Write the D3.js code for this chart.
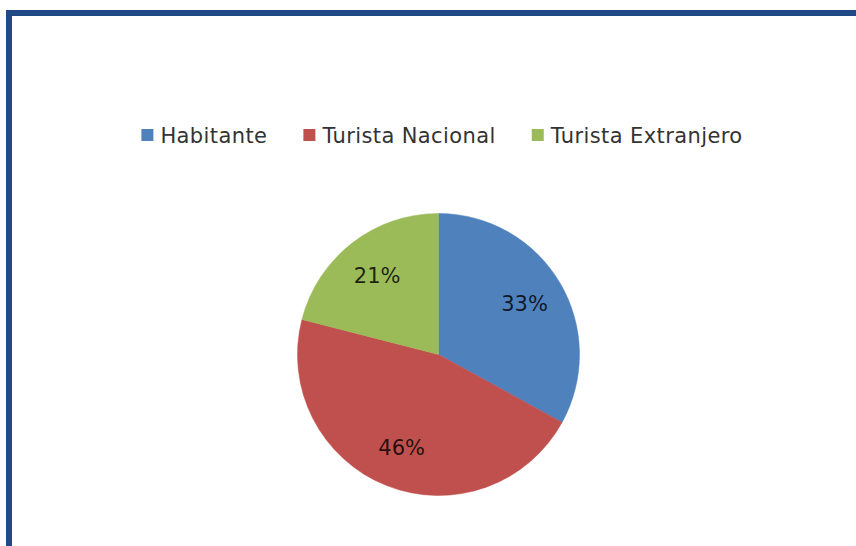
<!DOCTYPE html>
<html>
<head>
<meta charset="utf-8">
<script src="https://cdn.jsdelivr.net/npm/d3@7"></script>
<style>
  body { margin: 0; background: #fff; }
  svg { display: block; }
</style>
</head>
<body>
<div id="chart-area"></div>
<script>
// data
var categories = ["Habitante", "Turista Nacional", "Turista Extranjero"];
var values = [33, 46, 21];
var labels = ["33%", "46%", "21%"];
var colors = ["#4f81bd", "#c0504d", "#9bbb59"];

var width = 856, height = 546;

var svg = d3.select("#chart-area").append("svg")
    .attr("width", width)
    .attr("height", height);

// frame (top and left edges only are visible)
svg.append("rect")
    .attr("x", 6).attr("y", 10)
    .attr("width", width - 6).attr("height", 6)
    .attr("fill", "#1f4a86");
svg.append("rect")
    .attr("x", 6).attr("y", 10)
    .attr("width", 6).attr("height", height - 10)
    .attr("fill", "#1f4a86");

var cx = 438.5, cy = 354.5, radius = 141;

var pie = d3.pie()
    .sort(null)
    .value(function(d) { return d; });

var arc = d3.arc()
    .innerRadius(0)
    .outerRadius(radius);

var labelArc = d3.arc()
    .innerRadius(100)
    .outerRadius(100);

var g = svg.append("g")
    .attr("transform", "translate(" + cx + "," + cy + ")");

var arcs = pie(values);

g.selectAll("path.slice")
    .data(arcs)
    .enter().append("path")
    .attr("class", "slice")
    .attr("d", arc)
    .attr("fill", function(d, i) { return colors[i]; })
    .attr("stroke", function(d, i) { return colors[i]; })
    .attr("stroke-width", 0.5);

g.selectAll("text.lbl")
    .data(arcs)
    .enter().append("text")
    .attr("class", "lbl")
    .attr("transform", function(d) { return "translate(" + labelArc.centroid(d) + ")"; })
    .attr("text-anchor", "middle")
    .attr("dy", "0.36em")
    .style("font-family", "DejaVu Sans")
    .style("font-size", "21px")
    .style("fill", "#000")
    .style("fill-opacity", 0.82)
    .text(function(d, i) { return labels[i]; });

// legend
var legend = svg.append("g");
var items = legend.selectAll("g")
    .data(categories)
    .enter().append("g");

items.append("rect")
    .attr("y", -6)
    .attr("width", 12)
    .attr("height", 12)
    .attr("fill", function(d, i) { return colors[i]; });

items.append("text")
    .attr("x", 19)
    .attr("dy", "0.36em")
    .style("font-family", "DejaVu Sans")
    .style("font-size", "21px")
    .style("letter-spacing", "0.4px")
    .style("fill", "#333")
    .text(function(d) { return d; });

var pos = 0, gap = 36;
items.each(function() {
    var w = d3.select(this).select("text").node().getComputedTextLength();
    d3.select(this).attr("transform", "translate(" + pos + ",0)");
    pos += 19 + w + gap;
});
var total = pos - gap;
legend.attr("transform", "translate(" + (442 - total / 2) + ",135)");
</script>
</body>
</html>
